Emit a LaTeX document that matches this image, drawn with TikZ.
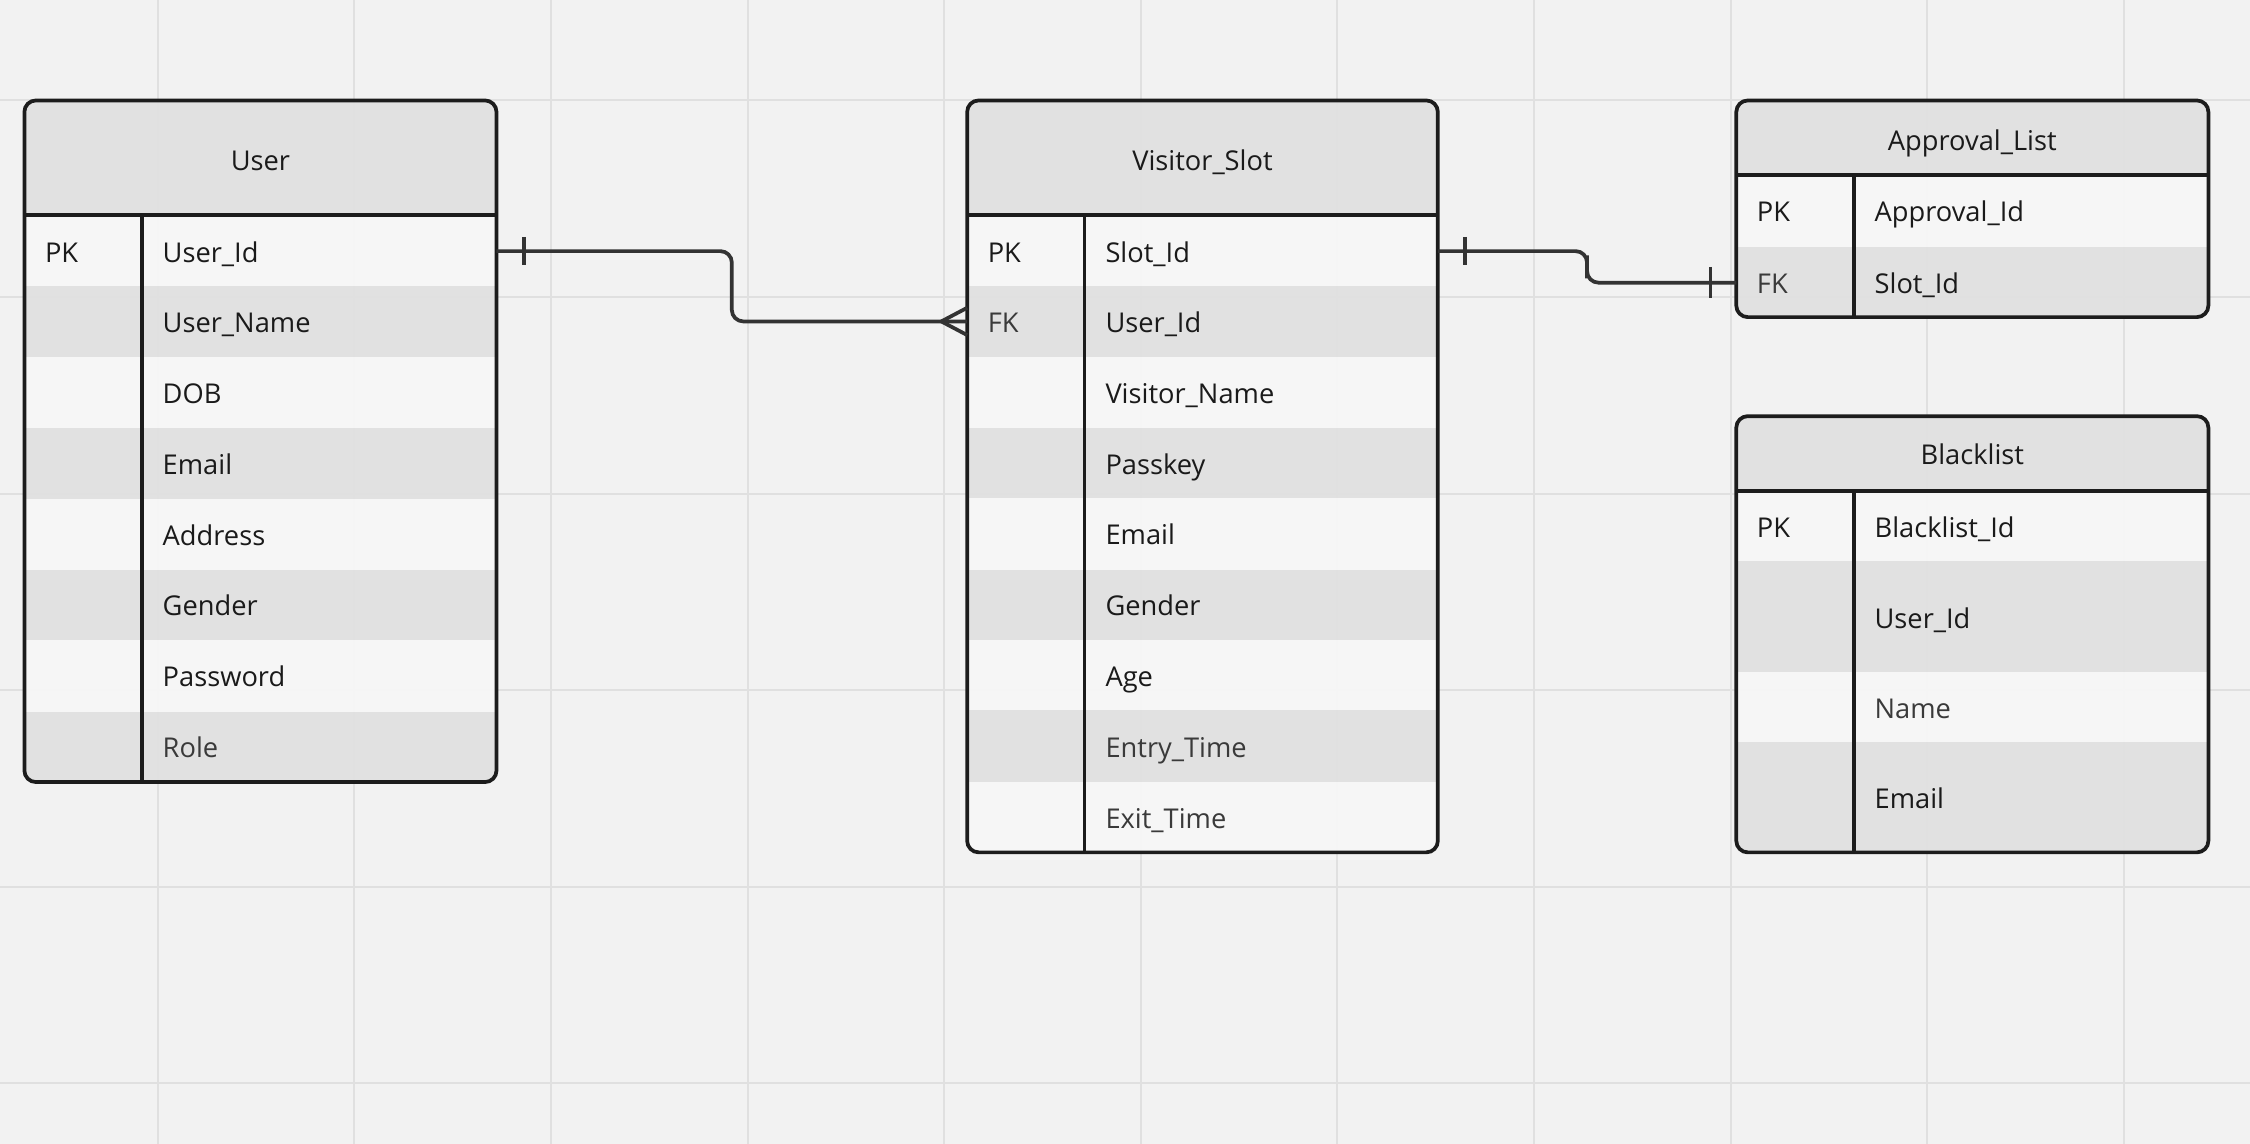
\documentclass[tikz,border=0pt]{standalone}
\usepackage{fontspec}
\setmainfont{Open Sans}
\usetikzlibrary{calc}
\definecolor{canvas}{HTML}{F2F2F2}
\definecolor{gridc}{HTML}{E0E0E0}
\definecolor{hdgray}{HTML}{E0E0E0}
\definecolor{rowlt}{HTML}{F7F7F7}
\definecolor{rowdk}{HTML}{E0E0E0}
\definecolor{edge}{HTML}{1C1C1C}
\definecolor{relc}{HTML}{333333}
\definecolor{txtd}{HTML}{1A1A1A}
\definecolor{txtg}{HTML}{3A3A3A}

\tikzset{
  tbl/.style={draw=edge, line width=1.3pt, rounded corners=4pt},
  hsep/.style={draw=edge, line width=1.3pt},
  vsep/.style={draw=edge, line width=1.1pt},
  rel/.style={draw=relc, line width=1.3pt, rounded corners=4pt},
  relbar/.style={draw=relc, line width=1.3pt},
  lt/.style={fill=rowlt, fill opacity=0.92},
  dk/.style={fill=rowdk, fill opacity=0.92},
  fld/.style={anchor=west, inner sep=0pt, text height=7.6pt, text depth=0pt,
    font=\fontsize{9.5}{11}\selectfont, text=txtd},
  fldg/.style={fld, text=txtg},
  ttl/.style={inner sep=0pt, text height=7.6pt, text depth=0pt,
    font=\fontsize{9.5}{11}\selectfont, text=txtd},
}

\begin{document}
\begin{tikzpicture}[x=0.5pt,y=-0.5pt]
\useasboundingbox (0,0) rectangle (1568,797);
\fill[canvas] (0,0) rectangle (1568,797);

% grid
\foreach \gx in {110,247,384,521,658,795,932,1069,1206,1343,1480}
  \draw[gridc, line width=0.7pt] (\gx,0) -- (\gx,797);
\foreach \gy in {70,207,344,481,618,755}
  \draw[gridc, line width=0.7pt] (0,\gy) -- (1568,\gy);

% Table: User
\begin{scope}
\clip[rounded corners=4pt] (17,70) rectangle (346,545);
\fill[hdgray, fill opacity=0.92] (17,70) rectangle (346,150);
\fill[lt] (17,150) rectangle (346,199);
\fill[dk] (17,199) rectangle (346,249);
\fill[lt] (17,249) rectangle (346,298);
\fill[dk] (17,298) rectangle (346,348);
\fill[lt] (17,348) rectangle (346,397);
\fill[dk] (17,397) rectangle (346,446);
\fill[lt] (17,446) rectangle (346,496);
\fill[dk] (17,496) rectangle (346,545);
\end{scope}
\draw[hsep] (17,150) -- (346,150);
\draw[vsep] (99,150) -- (99,545);
\draw[tbl] (17,70) rectangle (346,545);
\node[ttl] (user) at (181.5,111) {User};
\node[fld] (user-pk) at (31,175) {PK};
\node[fld] (user-uid) at (113,175) {User\_Id};
\node[fld] (user-name) at (113,224) {User\_Name};
\node[fld] (user-dob) at (113,273.5) {DOB};
\node[fld] (user-mail) at (113,323) {Email};
\node[fld] (user-addr) at (113,372.5) {Address};
\node[fld] (user-gen) at (113,421.5) {Gender};
\node[fld] (user-pw) at (113,471) {Password};
\node[fldg] (user-role) at (113,520.5) {Role};
\coordinate (user-uid-e) at (346,175);

% Table: Visitor_Slot
\begin{scope}
\clip[rounded corners=4pt] (674,70) rectangle (1002,594);
\fill[hdgray, fill opacity=0.92] (674,70) rectangle (1002,150);
\fill[lt] (674,150) rectangle (1002,199);
\fill[dk] (674,199) rectangle (1002,249);
\fill[lt] (674,249) rectangle (1002,298);
\fill[dk] (674,298) rectangle (1002,347);
\fill[lt] (674,347) rectangle (1002,397);
\fill[dk] (674,397) rectangle (1002,446);
\fill[lt] (674,446) rectangle (1002,495);
\fill[dk] (674,495) rectangle (1002,545);
\fill[lt] (674,545) rectangle (1002,594);
\end{scope}
\draw[hsep] (674,150) -- (1002,150);
\draw[vsep] (756,150) -- (756,594);
\draw[tbl] (674,70) rectangle (1002,594);
\node[ttl] (slot) at (838,111) {Visitor\_Slot};
\node[fld] (slot-pk) at (688,175) {PK};
\node[fldg] (slot-fk) at (688,224) {FK};
\node[fld] (slot-sid) at (770,175) {Slot\_Id};
\node[fld] (slot-uid) at (770,224) {User\_Id};
\node[fld] (slot-vname) at (770,273.5) {Visitor\_Name};
\node[fld] (slot-key) at (770,323) {Passkey};
\node[fld] (slot-mail) at (770,372) {Email};
\node[fld] (slot-gen) at (770,421.5) {Gender};
\node[fld] (slot-age) at (770,471) {Age};
\node[fldg] (slot-in) at (770,520) {Entry\_Time};
\node[fldg] (slot-out) at (770,569.5) {Exit\_Time};
\coordinate (slot-uid-w) at (674,224);
\coordinate (slot-sid-e) at (1002,175);

% Table: Approval_List
\begin{scope}
\clip[rounded corners=4pt] (1210,70) rectangle (1539,221);
\fill[hdgray, fill opacity=0.92] (1210,70) rectangle (1539,122);
\fill[lt] (1210,122) rectangle (1539,172);
\fill[dk] (1210,172) rectangle (1539,221);
\end{scope}
\draw[hsep] (1210,122) -- (1539,122);
\draw[vsep] (1292,122) -- (1292,221);
\draw[tbl] (1210,70) rectangle (1539,221);
\node[ttl] (appr) at (1374.5,97) {Approval\_List};
\node[fld] (appr-pk) at (1224,147) {PK};
\node[fldg] (appr-fk) at (1224,197) {FK};
\node[fld] (appr-aid) at (1306,147) {Approval\_Id};
\node[fld] (appr-sid) at (1306,197) {Slot\_Id};
\coordinate (appr-sid-w) at (1210,197);

% Table: Blacklist
\begin{scope}
\clip[rounded corners=4pt] (1210,290) rectangle (1539,594);
\fill[hdgray, fill opacity=0.92] (1210,290) rectangle (1539,342);
\fill[lt] (1210,342) rectangle (1539,391);
\fill[dk] (1210,391) rectangle (1539,468);
\fill[lt] (1210,468) rectangle (1539,517);
\fill[dk] (1210,517) rectangle (1539,594);
\end{scope}
\draw[hsep] (1210,342) -- (1539,342);
\draw[vsep] (1292,342) -- (1292,594);
\draw[tbl] (1210,290) rectangle (1539,594);
\node[ttl] (black) at (1374.5,316) {Blacklist};
\node[fld] (black-pk) at (1224,367) {PK};
\node[fld] (black-bid) at (1306,367) {Blacklist\_Id};
\node[fld] (black-uid) at (1306,430.5) {User\_Id};
\node[fldg] (black-name) at (1306,493) {Name};
\node[fld] (black-mail) at (1306,556) {Email};

% User 1 -- many Visitor_Slot
\draw[rel] (user-uid-e) -| ($(user-uid-e)!.5!(slot-uid-w)$) |- (slot-uid-w);
\draw[relbar] ($(user-uid-e)+(19,-10)$) -- ($(user-uid-e)+(19,10)$);
\draw[relbar] ($(slot-uid-w)+(0,-9.5)$) -- ($(slot-uid-w)+(-18,0)$) -- ($(slot-uid-w)+(0,9.5)$);

% Visitor_Slot 1 -- 1 Approval_List
\draw[rel] (slot-sid-e) -| ($(slot-sid-e)!.5!(appr-sid-w)$) |- (appr-sid-w);
\draw[relbar] ($(slot-sid-e)+(19,-10)$) -- ($(slot-sid-e)+(19,10)$);
\draw[relbar] ($(appr-sid-w)+(-18,-11)$) -- ($(appr-sid-w)+(-18,11)$);

\end{tikzpicture}
\end{document}
